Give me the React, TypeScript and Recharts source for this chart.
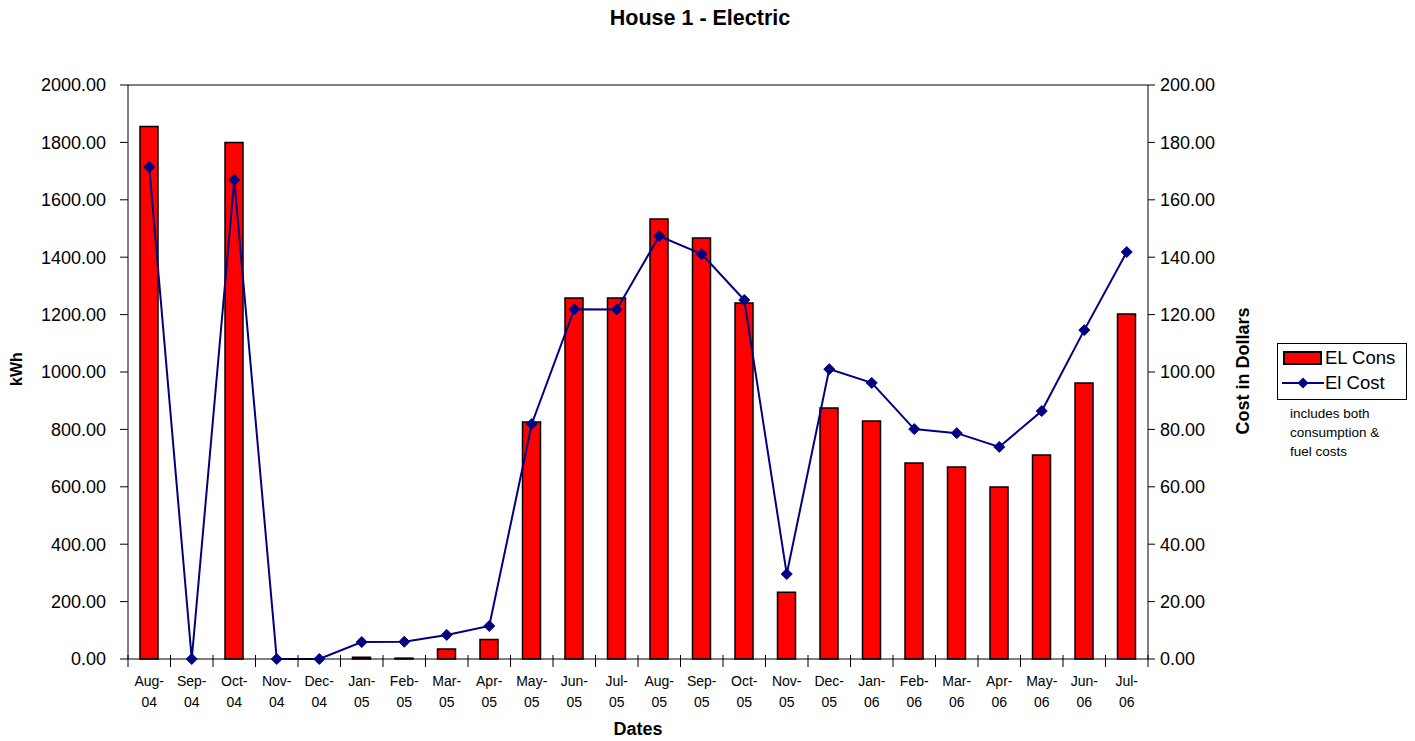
import { ComposedChart, Bar, Line, XAxis, YAxis, ReferenceLine } from 'recharts'

const months = [
  'Aug-04', 'Sep-04', 'Oct-04', 'Nov-04', 'Dec-04', 'Jan-05', 'Feb-05', 'Mar-05',
  'Apr-05', 'May-05', 'Jun-05', 'Jul-05', 'Aug-05', 'Sep-05', 'Oct-05', 'Nov-05',
  'Dec-05', 'Jan-06', 'Feb-06', 'Mar-06', 'Apr-06', 'May-06', 'Jun-06', 'Jul-06',
]
const elCons = [
  1855, 0, 1800, 0, 0, 6, 3, 35, 68, 826, 1258, 1258, 1533, 1467, 1240, 233,
  875, 829, 683, 669, 599, 711, 962, 1202,
]
const elCost = [
  171.4, 0, 166.9, 0, 0, 5.9, 6.0, 8.4, 11.5, 81.9, 121.9, 121.8, 147.4, 141.1, 125.1, 29.6,
  101.0, 96.2, 80.1, 78.7, 73.9, 86.4, 114.6, 141.8,
]
const kwhTicks = [0, 200, 400, 600, 800, 1000, 1200, 1400, 1600, 1800, 2000]
const costTicks = [0, 20, 40, 60, 80, 100, 120, 140, 160, 180, 200]

const data = months.map((m, i) => ({ month: m, cons: elCons[i], cost: elCost[i] }))

const FONT = '"Liberation Sans", Arial, sans-serif'
const NAVY = '#000080'

function Diamond(props: any) {
  const { cx, cy } = props
  if (cx == null || cy == null) return null
  const r = 5.5
  return (
    <polygon
      points={`${cx},${cy - r} ${cx + r},${cy} ${cx},${cy + r} ${cx - r},${cy}`}
      fill={NAVY}
      stroke={NAVY}
    />
  )
}

// month label split in two lines, tick marks sit between categories
function MonthTick(props: any) {
  const { x, y, payload, index, visibleTicksCount } = props
  const half = payload?.offset || 21.25
  const [a, b] = String(payload.value).split('-')
  const last = index === visibleTicksCount - 1
  return (
    <g>
      <line x1={x - half} x2={x - half} y1={y - 6} y2={y + 6} stroke="#000" />
      {last && <line x1={x + half} x2={x + half} y1={y - 6} y2={y + 6} stroke="#000" />}
      <text x={x} y={y + 25} textAnchor="middle" fontSize={14} fontFamily={FONT} fill="#000">
        {a + '-'}
      </text>
      <text x={x} y={y + 46} textAnchor="middle" fontSize={14} fontFamily={FONT} fill="#000">
        {b}
      </text>
    </g>
  )
}

export default function App() {
  return (
    <div style={{ position: 'relative', width: 1415, height: 741, margin: '-8px -8px 0 -8px', background: '#fff', fontFamily: FONT }}>
      <div style={{ position: 'absolute', left: 0, width: 1400, top: 6, textAlign: 'center', fontSize: 21.5, fontWeight: 'bold' }}>
        House 1 - Electric
      </div>
      <ComposedChart
        width={1415}
        height={741}
        data={data}
        margin={{ top: 85, right: 187, bottom: 32, left: 48 }}
        barCategoryGap={0}
      >
        <XAxis
          dataKey="month"
          xAxisId="x"
          height={50}
          tickSize={0}
          tickLine={false}
          interval={0}
          axisLine={{ stroke: '#000' }}
          tick={<MonthTick />}
        />
        <YAxis
          yAxisId="left"
          width={80}
          domain={[0, 2000]}
          ticks={kwhTicks}
          tickFormatter={(v: number) => v.toFixed(2)}
          tick={{ fontSize: 18, fill: '#000', fontFamily: FONT }}
          tickSize={8}
          tickMargin={14}
          axisLine={{ stroke: '#000' }}
          tickLine={{ stroke: '#000' }}
        />
        <YAxis
          yAxisId="right"
          orientation="right"
          width={80}
          domain={[0, 200]}
          ticks={costTicks}
          tickFormatter={(v: number) => v.toFixed(2)}
          tick={{ fontSize: 18, fill: '#000', fontFamily: FONT, textAnchor: 'start' }}
          tickSize={7}
          tickMargin={5}
          axisLine={{ stroke: '#000' }}
          tickLine={{ stroke: '#000' }}
        />
        <ReferenceLine yAxisId="left" xAxisId="x" y={2000} stroke="#000" />
        <Bar
          dataKey="cons"
          xAxisId="x"
          yAxisId="left"
          barSize={18}
          fill="#ff0000"
          stroke="#000"
          strokeWidth={1.5}
          isAnimationActive={false}
        />
        <Line
          dataKey="cost"
          xAxisId="x"
          yAxisId="right"
          type="linear"
          stroke={NAVY}
          strokeWidth={2}
          dot={<Diamond />}
          activeDot={false}
          isAnimationActive={false}
        />
      </ComposedChart>
      <div
        style={{
          position: 'absolute', left: 17, top: 369, transform: 'translate(-50%, -50%) rotate(-90deg)',
          fontSize: 16, fontWeight: 'bold', whiteSpace: 'nowrap',
        }}
      >
        kWh
      </div>
      <div
        style={{
          position: 'absolute', left: 1243, top: 371, transform: 'translate(-50%, -50%) rotate(-90deg)',
          fontSize: 18, fontWeight: 'bold', whiteSpace: 'nowrap',
        }}
      >
        Cost in Dollars
      </div>
      <div style={{ position: 'absolute', left: 0, width: 1276, top: 719, textAlign: 'center', fontSize: 18, lineHeight: '21px', fontWeight: 'bold' }}>
        Dates
      </div>
      <div
        style={{
          position: 'absolute', left: 1277, top: 343, width: 130, height: 57, border: '1px solid #000',
          boxSizing: 'border-box', fontSize: 18.5,
        }}
      >
        <div style={{ position: 'absolute', left: 5, top: 7, width: 39, height: 14, background: '#ff0000', border: '2px solid #000', boxSizing: 'border-box' }} />
        <div style={{ position: 'absolute', left: 47, top: 3, lineHeight: '22px' }}>EL Cons</div>
        <svg style={{ position: 'absolute', left: 4, top: 32 }} width={42} height={14}>
          <line x1={0} x2={42} y1={7} y2={7} stroke={NAVY} strokeWidth={2} />
          <polygon points="21,1.5 26.5,7 21,12.5 15.5,7" fill={NAVY} />
        </svg>
        <div style={{ position: 'absolute', left: 47, top: 28, lineHeight: '22px' }}>El Cost</div>
      </div>
      <div style={{ position: 'absolute', left: 1290, top: 404, fontSize: 13.5, lineHeight: '19px' }}>
        includes both<br />consumption &amp;<br />fuel costs
      </div>
    </div>
  )
}
